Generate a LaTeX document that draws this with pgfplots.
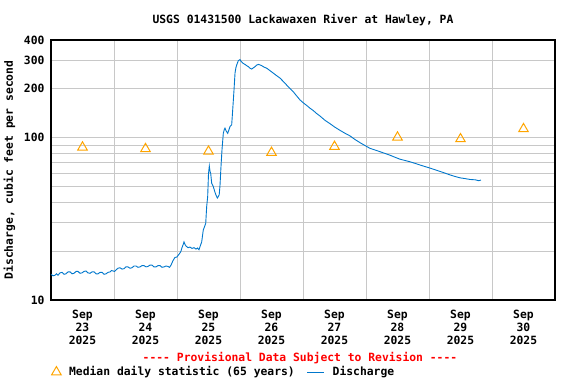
\documentclass[border=0pt]{standalone}
\usepackage{pgfplots}
\pgfplotsset{compat=1.18}
\usepackage{fontspec}
\setmainfont{DejaVu Sans Mono}
\definecolor{qcol}{RGB}{0,119,204}
\definecolor{medcol}{RGB}{255,165,0}
\definecolor{gridc}{RGB}{200,200,200}
\newcommand{\cf}{\fontsize{11.4}{13}\selectfont\bfseries}
\begin{document}
\begin{tikzpicture}
\path[use as bounding box] (0,0) rectangle (576bp,384bp);
\begin{axis}[
  at={(51bp,84bp)}, anchor=south west,
  scale only axis, width=504bp, height=260bp,
  xmin=23, xmax=31, ymode=log, ymin=10, ymax=400,
  /pgf/number format/assume math mode=true,
  font=\cf,
  xtick={23.5,24.5,25.5,26.5,27.5,28.5,29.5,30.5},
  xticklabels={{Sep\\23\\2025},{Sep\\24\\2025},{Sep\\25\\2025},{Sep\\26\\2025},{Sep\\27\\2025},{Sep\\28\\2025},{Sep\\29\\2025},{Sep\\30\\2025}},
  xticklabel style={align=center, font=\cf, yshift=-7bp},
  minor xtick={24,25,26,27,28,29,30},
  xminorgrids,
  ytick={10,100,200,300,400},
  yticklabels={10,100,200,300,400},
  yticklabel style={font=\cf, xshift=-3bp},
  minor ytick={20,30,40,50,60,70,80,90},
  ymajorgrids, yminorgrids,
  major tick length=0pt, minor tick length=0pt,
  grid style={gridc, line width=1bp},
  minor grid style={gridc, line width=1bp},
  axis line style={line width=1.2bp},
  title={USGS 01431500 Lackawaxen River at Hawley, PA},
  title style={font=\cf, yshift=5bp},
  ylabel={Discharge, cubic feet per second},
  ylabel style={font=\cf, yshift=2bp},
  legend columns=2,
  legend cell align=left,
  legend style={at={(axis description cs:-0.005,-0.277)}, anchor=west, draw=none, fill=none, font=\cf,
    /tikz/every odd column/.append style={column sep=6bp},
    /tikz/every even column/.append style={column sep=10bp}},
]
\addplot[only marks, mark=triangle, mark size=5.5pt, mark options={draw=medcol, line width=1bp, fill=none}]
 coordinates {(23.5,87.3) (24.5,85.4) (25.5,82.4) (26.5,81) (27.5,88.2) (28.5,100.6) (29.5,98.2) (30.5,113.3)};
\addlegendentry{Median daily statistic (65 years)}
\addplot[qcol, line width=0.9bp, no marks] coordinates {
(23.000,14.4) (23.032,14.1) (23.063,14.2) (23.087,14.5) (23.111,14.2) (23.143,14.7) (23.175,14.8)
(23.206,14.4) (23.238,14.5) (23.270,14.9) (23.302,14.9) (23.333,14.5) (23.365,14.6) (23.397,15.0)
(23.429,15.0) (23.460,14.6) (23.492,14.7) (23.524,15.0) (23.556,15.1) (23.587,14.7) (23.619,14.6)
(23.651,14.9) (23.683,14.9) (23.714,14.5) (23.746,14.5) (23.778,14.8) (23.810,14.8) (23.841,14.4)
(23.873,14.5) (23.905,14.8) (23.937,14.9) (23.960,15.2) (23.984,15.1) (24.008,15.0) (24.032,15.3)
(24.063,15.7) (24.095,15.8) (24.127,15.5) (24.159,15.6) (24.190,16.0) (24.222,16.0) (24.254,15.7)
(24.286,15.8) (24.317,16.2) (24.349,16.2) (24.381,15.9) (24.413,16.0) (24.444,16.3) (24.476,16.3)
(24.508,16.0) (24.540,16.1) (24.571,16.4) (24.603,16.4) (24.635,16.0) (24.667,16.0) (24.698,16.3)
(24.730,16.3) (24.762,15.9) (24.794,16.0) (24.825,16.2) (24.857,16.1) (24.881,15.9) (24.905,16.4)
(24.937,17.5) (24.968,18.3) (25.000,18.4) (25.016,18.8) (25.048,19.5) (25.063,20.0) (25.079,21.0)
(25.095,21.8) (25.111,22.8) (25.127,22.0) (25.143,21.5) (25.175,21.0) (25.206,21.2) (25.238,20.8)
(25.270,21.0) (25.302,20.6) (25.325,20.9) (25.349,20.4) (25.365,21.3) (25.392,22.8) (25.417,27.0)
(25.440,28.5) (25.456,29.7) (25.471,37.6) (25.487,43.4) (25.500,60.0) (25.513,66.9) (25.524,62.0)
(25.535,60.3) (25.551,52.3) (25.576,50.0) (25.600,46.5) (25.619,44.3) (25.640,42.5) (25.656,43.4)
(25.670,44.5) (25.683,51.1) (25.698,66.1) (25.714,84.0) (25.735,106.4) (25.750,112.0) (25.762,114.5)
(25.780,110.0) (25.805,106.4) (25.825,112.0) (25.841,117.0) (25.868,120.0) (25.884,148.0) (25.905,197.0)
(25.921,250.0) (25.935,270.0) (25.948,281.0) (25.973,298.0) (26.000,303.0) (26.015,296.0) (26.027,293.0)
(26.050,287.0) (26.079,283.0) (26.105,278.0) (26.132,274.0) (26.160,268.0) (26.186,265.0) (26.210,269.0)
(26.238,274.0) (26.265,280.0) (26.290,283.0) (26.315,281.0) (26.344,278.0) (26.385,272.0) (26.424,268.0)
(26.476,259.0) (26.529,250.0) (26.582,241.0) (26.635,233.0) (26.688,222.0) (26.741,211.0) (26.794,201.0)
(26.846,192.0) (26.899,181.0) (26.952,171.0) (27.005,164.0) (27.059,158.0) (27.111,152.0) (27.163,147.0)
(27.216,141.0) (27.270,136.0) (27.349,128.0) (27.429,122.0) (27.508,116.0) (27.587,111.0) (27.667,106.5)
(27.746,102.6) (27.825,97.5) (27.905,93.2) (27.984,89.5) (28.063,86.0) (28.143,84.0) (28.222,82.0)
(28.302,80.0) (28.381,78.0) (28.460,75.8) (28.540,73.7) (28.619,72.4) (28.698,71.1) (28.778,69.5)
(28.857,67.9) (28.937,66.4) (29.016,65.0) (29.095,63.5) (29.175,62.0) (29.254,60.5) (29.333,59.0)
(29.413,57.7) (29.492,56.6) (29.571,56.0) (29.651,55.3) (29.738,55.0) (29.790,54.3) (29.825,54.9)
};
\addlegendentry{Discharge}
\end{axis}
\node[text=red, font=\cf] at (300bp,26bp) {{-}{-}{-}{-} Provisional Data Subject to Revision {-}{-}{-}{-}};
\end{tikzpicture}
\end{document}
